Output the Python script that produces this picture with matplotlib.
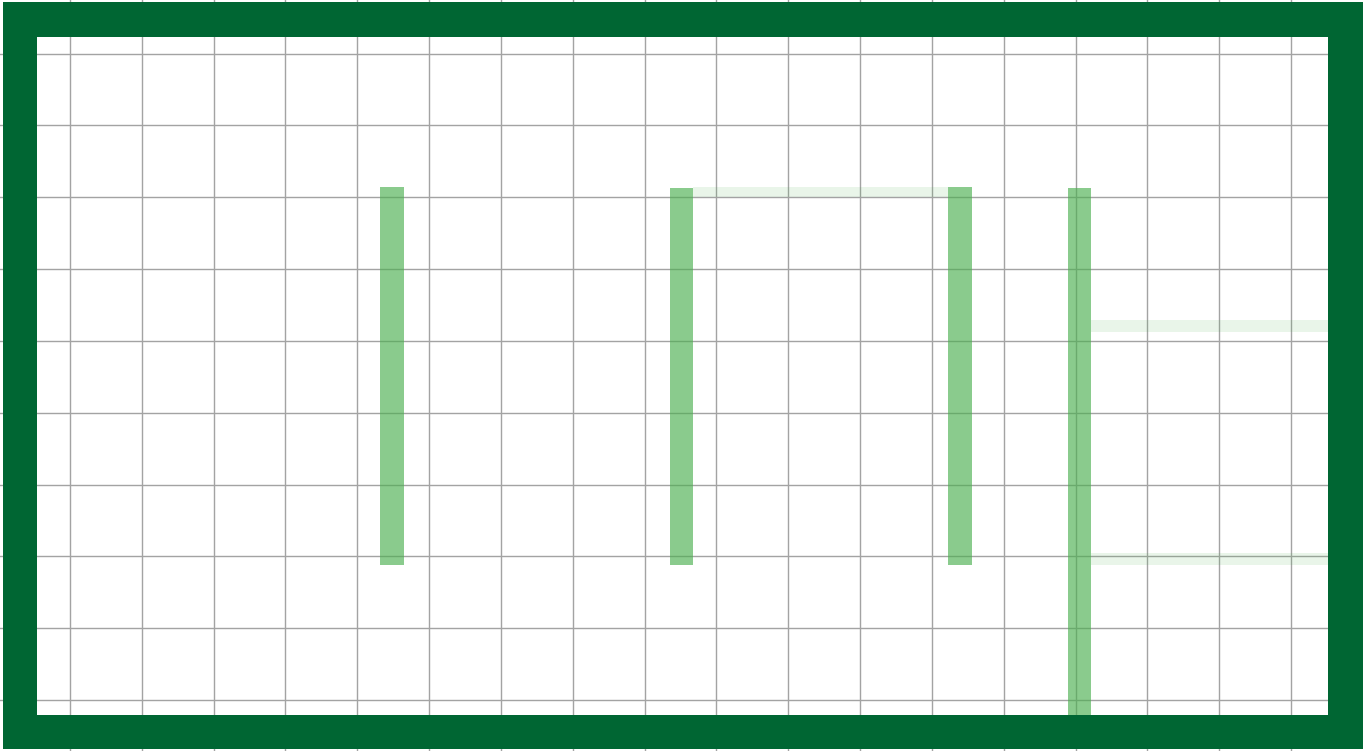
"""Floor plan: walls, shelves and walkways on a unit grid."""

import matplotlib
matplotlib.use('Agg')
import matplotlib.pyplot as plt
from matplotlib.patches import Rectangle

# view window in grid units
x_range = (-0.975, 18.003)
y_range = (-0.71, 9.747)
grid_x = list(range(0, 18))
grid_y = list(range(0, 10))

# outer wall: outer box and inner box (x0, y0, x1, y1)
wall_outer = (-0.93, -0.68, 18.05, 9.72)
wall_inner = (-0.46, -0.21, 17.52, 9.23)

# shelves (x0, x1, y0, y1)
shelves = [
    (4.32, 4.65, 1.88, 7.14),
    (8.35, 8.675, 1.88, 7.13),
    (12.225, 12.56, 1.88, 7.14),
    (13.90, 14.22, -0.30, 7.13),
]

# walkways (x0, x1, y0, y1)
walkways = [
    (8.675, 12.225, 7.00, 7.14),
    (14.22, 17.52, 5.12, 5.29),
    (14.22, 17.52, 1.88, 2.05),
]

WALL_COLOR = '#006633'
SHELF_COLOR = '#4caf50'

fig = plt.figure(figsize=(13.63, 7.51), dpi=100)
ax = fig.add_axes([0, 0, 1, 1])
ax.set_xlim(*x_range)
ax.set_ylim(*y_range)
ax.set_xticks(grid_x)
ax.set_yticks(grid_y)
ax.tick_params(length=0, labelbottom=False, labelleft=False)
ax.grid(True, color='#a3a3a3', linewidth=1.0)
ax.set_axisbelow(True)
for s in ax.spines.values():
    s.set_visible(False)

# walkways first, faint
for x0, x1, y0, y1 in walkways:
    ax.add_patch(Rectangle((x0, y0), x1 - x0, y1 - y0, facecolor=SHELF_COLOR,
                           alpha=0.12, edgecolor='none', zorder=2))

for x0, x1, y0, y1 in shelves:
    ax.add_patch(Rectangle((x0, y0), x1 - x0, y1 - y0, facecolor=SHELF_COLOR,
                           alpha=0.65, edgecolor='none', zorder=3))

# walls as four bands between the outer and inner box
ox0, oy0, ox1, oy1 = wall_outer
ix0, iy0, ix1, iy1 = wall_inner
wall_parts = [
    (ox0, oy0, ix0 - ox0, oy1 - oy0),   # left
    (ix1, oy0, ox1 - ix1, oy1 - oy0),   # right
    (ox0, oy0, ox1 - ox0, iy0 - oy0),   # bottom
    (ox0, iy1, ox1 - ox0, oy1 - iy1),   # top
]
for x, y, w, h in wall_parts:
    ax.add_patch(Rectangle((x, y), w, h, facecolor=WALL_COLOR,
                           edgecolor='none', zorder=4))

fig.savefig('out.png', dpi=100)
plt.close(fig)
